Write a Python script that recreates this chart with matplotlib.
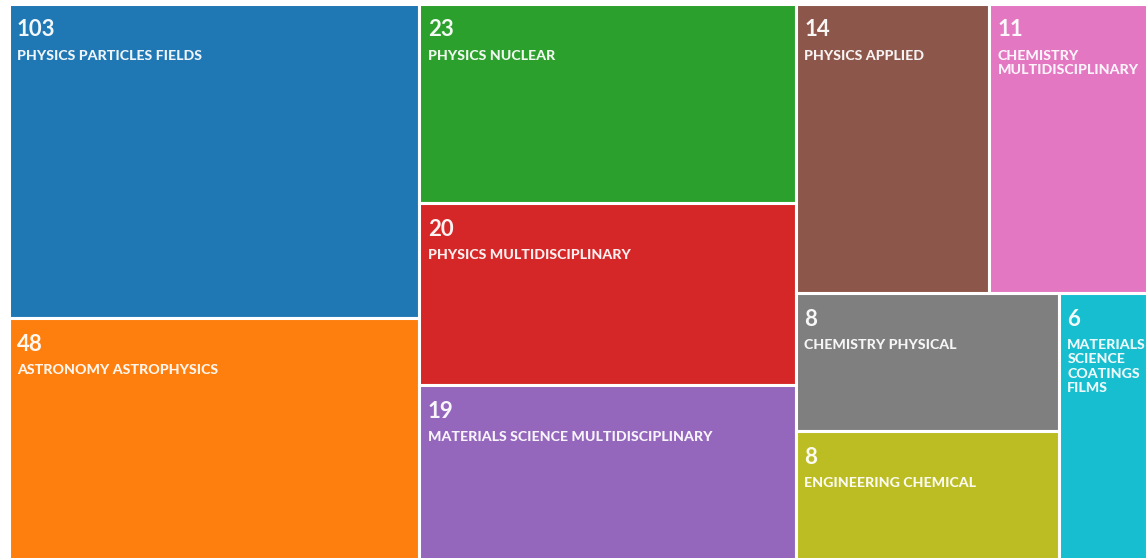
import matplotlib.pyplot as plt
from matplotlib.patches import Rectangle
from matplotlib import font_manager

# Data
categories = [
    'PHYSICS PARTICLES FIELDS', 'ASTRONOMY ASTROPHYSICS', 'PHYSICS NUCLEAR',
    'PHYSICS MULTIDISCIPLINARY', 'MATERIALS SCIENCE MULTIDISCIPLINARY',
    'PHYSICS APPLIED', 'CHEMISTRY MULTIDISCIPLINARY', 'CHEMISTRY PHYSICAL',
    'ENGINEERING CHEMICAL', 'MATERIALS SCIENCE COATINGS FILMS',
]
values = [103, 48, 23, 20, 19, 14, 11, 8, 8, 6]
# relative tile areas as drawn in the reference (not proportional to counts)
tile_weight = [128.6, 99.3, 74.5, 68.5, 65.7, 55.6, 45.5, 36.0, 34.1, 23.5]
colors = ['#1f77b4', '#ff7f0e', '#2ca02c', '#d62728', '#9467bd',
          '#8c564b', '#e377c2', '#7f7f7f', '#bcbd22', '#17becf']

# nesting of the tiles: columns -> rows -> columns ...
tree = [[0, 1], [2, 3, 4], [[5, 6], [[7, 8], 9]]]

W_PX, H_PX = 1148, 558
DPI = 100
LEFT, RIGHT, TOP, BOTTOM = 8.5, 1147.0, 3.5, -3.0

names = {f.name for f in font_manager.fontManager.ttflist}
FONT = 'Lato' if 'Lato' in names else 'DejaVu Sans'


def weight(node):
    if isinstance(node, int):
        return tile_weight[node]
    return sum(weight(n) for n in node)


def layout(node, x, y, w, h, horizontal, out):
    if isinstance(node, int):
        out[node] = (x, y, w, h)
        return
    total = weight(node)
    for child in node:
        frac = weight(child) / total
        if horizontal:
            cw = w * frac
            layout(child, x, y, cw, h, not horizontal, out)
            x += cw
        else:
            ch = h * frac
            layout(child, x, y, w, ch, not horizontal, out)
            y += ch


def wrap(text, max_w, renderer, ax, **kw):
    lines, cur = [], ''
    for word in text.split():
        trial = word if not cur else cur + ' ' + word
        t = ax.text(0, 0, trial, **kw)
        tw = t.get_window_extent(renderer).width
        t.remove()
        if tw > max_w and cur:
            lines.append(cur)
            cur = word
        else:
            cur = trial
    lines.append(cur)
    return lines


fig = plt.figure(figsize=(W_PX / DPI, H_PX / DPI), dpi=DPI)
ax_w = RIGHT - LEFT
ax_h = (H_PX - TOP) - BOTTOM
ax = fig.add_axes([LEFT / W_PX, BOTTOM / H_PX, ax_w / W_PX, ax_h / H_PX])
ax.set_xlim(0, ax_w)
ax.set_ylim(ax_h, 0)
ax.axis('off')

rects = {}
layout(tree, 0, 0, ax_w, ax_h, True, rects)

renderer = fig.canvas.get_renderer()
label_kw = dict(fontsize=10.2, fontweight='black', family=[FONT, 'DejaVu Sans'],
                color='white', alpha=0.93)
num_kw = dict(fontsize=16, fontweight='bold', family=[FONT, 'DejaVu Sans'],
              color='white', alpha=0.95)

for i, (x, y, w, h) in rects.items():
    ax.add_patch(Rectangle((x, y), w, h, facecolor=colors[i],
                           edgecolor='white', linewidth=2.2))
    pad = 8.5
    ax.text(x + pad, y + 33, str(values[i]), va='baseline', ha='left',
            clip_on=True, **num_kw)
    lines = wrap(categories[i], w - 2 * pad, renderer, ax, **label_kw)
    for k, line in enumerate(lines):
        ax.text(x + pad, y + 56 + 14.3 * k, line, va='baseline', ha='left',
                **label_kw)

fig.savefig('out.png', dpi=DPI)
